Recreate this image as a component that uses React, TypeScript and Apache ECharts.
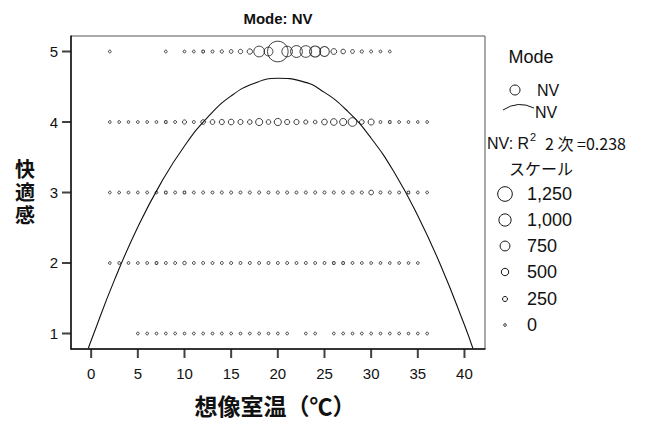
import { useEffect, useRef } from "react";
import * as echarts from "echarts";

// ---- data ----
const comfortLevels = [5, 4, 3, 2, 1];

const temps5 = [2, 8, 10, 11, 12, 13, 14, 15, 16, 17, 18, 19, 20, 21, 22, 23, 24, 25, 26, 27, 28, 29, 30, 31, 32];
const weights5 = [10, 10, 15, 20, 25, 40, 70, 110, 180, 280, 850, 650, 1880, 830, 960, 940, 880, 740, 330, 210, 120, 60, 35, 15, 10];

const temps4 = [2, 3, 4, 5, 6, 7, 8, 9, 10, 11, 12, 13, 14, 15, 16, 17, 18, 19, 20, 21, 22, 23, 24, 25, 26, 27, 28, 29, 30, 31, 32, 33, 34, 35, 36];
const weights4 = [10, 15, 10, 20, 15, 20, 25, 30, 160, 40, 210, 220, 260, 320, 260, 210, 470, 210, 480, 260, 270, 160, 110, 320, 420, 470, 630, 220, 360, 30, 25, 20, 15, 10, 10];

const temps3 = [2, 3, 4, 5, 6, 7, 8, 9, 10, 11, 12, 13, 14, 15, 16, 17, 18, 19, 20, 21, 22, 23, 24, 25, 26, 27, 28, 29, 30, 31, 32, 33, 34, 35, 36];
const weights3 = [10, 10, 15, 15, 20, 20, 25, 30, 25, 30, 35, 30, 35, 40, 35, 40, 45, 40, 45, 40, 35, 40, 45, 50, 40, 45, 60, 50, 220, 45, 40, 30, 25, 15, 10];

const temps2 = [2, 3, 4, 5, 6, 7, 8, 9, 10, 11, 12, 13, 14, 15, 16, 17, 18, 19, 20, 21, 22, 23, 24, 25, 26, 27, 28, 29, 30, 31, 32, 33, 34, 35];
const weights2 = [10, 15, 15, 20, 20, 25, 30, 35, 90, 30, 35, 30, 35, 40, 35, 40, 35, 40, 35, 35, 30, 35, 30, 30, 25, 25, 20, 20, 15, 15, 10, 10, 10, 10];

const temps1 = [5, 6, 7, 8, 9, 10, 11, 12, 13, 14, 15, 16, 17, 18, 19, 20, 21, 23, 24, 26, 27, 28, 29, 30, 31, 32, 33, 34, 35, 36];
const weights1 = [10, 10, 15, 10, 15, 15, 20, 15, 20, 20, 15, 20, 15, 20, 15, 15, 10, 10, 10, 10, 15, 15, 20, 15, 15, 10, 15, 10, 10, 10];

const fitX = [-0.3, 0, 2.5, 5, 7.5, 10, 12.5, 15, 17.5, 20, 22.5, 25, 27.5, 30, 32.5, 35, 37.5, 40, 40.9];
const fitY = [0.79, 0.9, 1.76, 2.51, 3.14, 3.66, 4.07, 4.37, 4.55, 4.62, 4.58, 4.42, 4.15, 3.77, 3.28, 2.67, 1.95, 1.12, 0.79];

const xTicks = [0, 5, 10, 15, 20, 25, 30, 35, 40];
const yTicks = [1, 2, 3, 4, 5];

const scaleValues = [1250, 1000, 750, 500, 250, 0];
const scaleLabels = ["1,250", "1,000", "750", "500", "250", "0"];

const titleText = "Mode: NV";
const xTitle = "想像室温（℃）";
const yTitle = "快適感";
const legendTitle = "Mode";
const seriesName = "NV";
const r2Label = "2 次 =0.238";
const scaleTitle = "スケール";

// ---- axis extents & styles ----
const X_MIN = -2.16;
const X_MAX = 42.2;
const Y_MIN = 0.78;
const Y_MAX = 5.22;
const TICK_LEN = 9;
const TICK_W = 2;
const INK = "#111";
const LATIN = '"Liberation Sans", Arial, sans-serif';
const CJK = '"Noto Sans CJK JP", "Liberation Sans", sans-serif';
const sizeOf = (w: number) => 2.6 + w * 0.0096;

const rows = [
  { level: comfortLevels[0], temps: temps5, weights: weights5 },
  { level: comfortLevels[1], temps: temps4, weights: weights4 },
  { level: comfortLevels[2], temps: temps3, weights: weights3 },
  { level: comfortLevels[3], temps: temps2, weights: weights2 },
  { level: comfortLevels[4], temps: temps1, weights: weights1 },
];

export default function App() {
  const ref = useRef<HTMLDivElement>(null);
  useEffect(() => {
    document.body.style.margin = "0";
    if (!ref.current) return;
    const chart = echarts.init(ref.current, undefined, { renderer: "svg" });

    const bubbleData: number[][] = [];
    rows.forEach((r) => {
      r.temps.forEach((t, i) => bubbleData.push([t, r.level, r.weights[i]]));
    });
    const fitData = fitX.map((x, i) => [x, fitY[i]]);

    const txt = (text: string, x: number, y: number, font: string, align = "left", vAlign = "middle", extra: any = {}) => ({
      type: "text",
      x,
      y,
      silent: true,
      style: {
        text,
        font,
        fill: INK,
        textAlign: align,
        textVerticalAlign: vAlign,
        align,
        verticalAlign: vAlign,
        ...extra,
      },
    });

    const legendRowsY = [194, 220, 246, 272, 299, 325];
    const yTitleY = [168, 191, 214];
    const graphics: any[] = [
      txt(titleText, 278, 18, `bold 15px ${LATIN}`, "center"),
      ...yTitle.split("").map((ch, i) => txt(ch, 25, yTitleY[i], `bold 20px ${CJK}`, "center", "middle", { lineHeight: 22 })),
      txt(xTitle, 275, 405, `bold 23px ${CJK}`, "center"),
      txt(legendTitle, 531, 57, `18px ${LATIN}`, "center"),
      {
        type: "circle",
        silent: true,
        shape: { cx: 515, cy: 90, r: 5 },
        style: { fill: "none", stroke: INK, lineWidth: 1 },
      },
      txt(seriesName, 537, 90, `16px ${LATIN}`),
      {
        type: "bezierCurve",
        silent: true,
        shape: { x1: 503, y1: 110, cpx1: 518, cpy1: 100, x2: 534, y2: 108 },
        style: { fill: "none", stroke: INK, lineWidth: 1 },
      },
      txt(seriesName, 535, 112, `16px ${LATIN}`),
      txt("NV: R", 487, 143, `16px ${LATIN}`),
      txt("2", 530, 137, `11px ${LATIN}`),
      txt(r2Label, 545, 143, `16px ${CJK}`),
      txt(scaleTitle, 509, 168, `16px ${CJK}`),
    ];
    scaleValues.forEach((v, i) => {
      graphics.push({
        type: "circle",
        silent: true,
        shape: { cx: 505, cy: legendRowsY[i], r: sizeOf(v) / 2 },
        style: { fill: "none", stroke: INK, lineWidth: 1 },
      });
      graphics.push(txt(scaleLabels[i], 527, legendRowsY[i], `18px ${LATIN}`));
    });

    chart.setOption({
      animation: false,
      grid: {
        left: 71,
        right: 160,
        top: 36,
        bottom: 73,
        show: true,
        borderColor: "#555",
        borderWidth: 1,
        backgroundColor: "transparent",
      },
      xAxis: {
        type: "value",
        min: X_MIN,
        max: X_MAX,
        splitLine: { show: false },
        axisLine: { onZero: false, lineStyle: { color: INK, width: 1.5 } },
        axisTick: { show: false },
        axisLabel: { customValues: xTicks, margin: 17, color: INK, fontSize: 15, fontFamily: LATIN },
      },
      yAxis: {
        type: "value",
        min: Y_MIN,
        max: Y_MAX,
        splitLine: { show: false },
        axisLine: { show: true, onZero: false, lineStyle: { color: INK, width: 1.5 } },
        axisTick: { show: false },
        axisLabel: { customValues: yTicks, margin: 13, color: INK, fontSize: 15, fontFamily: LATIN },
      },
      series: [
        {
          type: "scatter",
          data: bubbleData,
          symbol: "circle",
          symbolSize: (v: number[]) => sizeOf(v[2]),
          itemStyle: { color: "rgba(0,0,0,0)", borderColor: INK, borderWidth: 1 },
          silent: true,
          z: 3,
        },
        {
          type: "line",
          data: fitData,
          smooth: true,
          showSymbol: false,
          symbol: "none",
          lineStyle: { color: INK, width: 1.1 },
          silent: true,
          z: 2,
        },
        {
          type: "scatter",
          data: xTicks.map((v) => [v, Y_MIN]),
          symbol: "rect",
          symbolSize: [TICK_W, TICK_LEN],
          symbolOffset: [0, TICK_LEN / 2],
          itemStyle: { color: INK, borderWidth: 0 },
          clip: false,
          silent: true,
          z: 6,
        },
        {
          type: "scatter",
          data: yTicks.map((v) => [X_MIN, v]),
          symbol: "rect",
          symbolSize: [TICK_LEN, TICK_W],
          symbolOffset: [-TICK_LEN / 2, 0],
          itemStyle: { color: INK, borderWidth: 0 },
          clip: false,
          silent: true,
          z: 6,
        },
      ],
      graphic: graphics,
    });

    return () => chart.dispose();
  }, []);
  return <div ref={ref} style={{ width: 645, height: 422 }} />;
}
